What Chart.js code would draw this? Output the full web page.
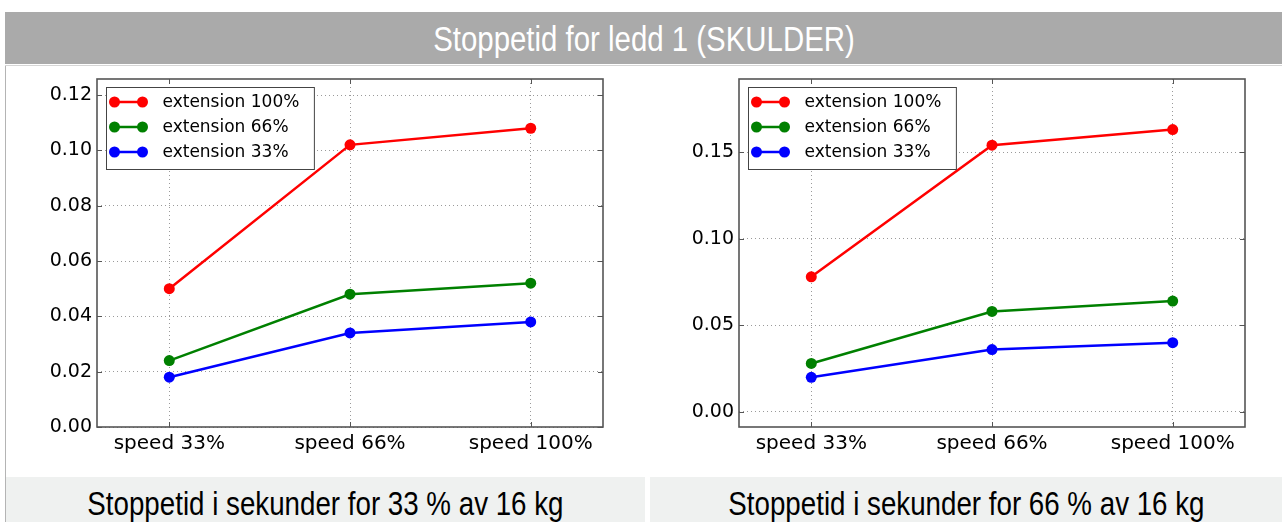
<!DOCTYPE html>
<html>
<head>
<meta charset="utf-8">
<script src="https://cdn.jsdelivr.net/npm/chart.js@4"></script>
<style>
  html, body { margin: 0; padding: 0; background: #fff; }
  body { width: 1282px; height: 522px; position: relative; overflow: hidden; }
  #header {
    position: absolute; left: 5px; top: 12px; width: 1277px; height: 52px;
    background: #aaaaaa; color: #fff; text-align: center; line-height: 54px;
    font-family: "Liberation Sans", sans-serif; font-size: 35px;
  }
  #rule { position: absolute; left: 5px; top: 65px; width: 1277px; height: 1px; background: #d6d6d6; }
  #lborder { position: absolute; left: 5px; top: 66px; width: 1px; height: 456px; background: #b4b4b4; }
  .panel { position: absolute; top: 66px; height: 406px; }
  .caption {
    position: absolute; top: 477px; height: 45px; background: #eff1f0; color: #000;
    text-align: center; line-height: 54px;
    font-family: "Liberation Sans", sans-serif; font-size: 33px;
  }
  /* narrow face: squeeze the regular one */
  .narrow { display: inline-block; transform: scaleX(0.84); white-space: nowrap; }
</style>
</head>
<body>
<div id="header"><span class="narrow">Stoppetid for ledd 1 (SKULDER)</span></div>
<div id="rule"></div>
<div id="lborder"></div>
<div class="panel" style="left:6px;width:639px"><canvas id="chart-33"></canvas></div>
<div class="panel" style="left:650px;width:632px"><canvas id="chart-66"></canvas></div>
<div class="caption" style="left:6px;width:639px"><span class="narrow">Stoppetid i sekunder for 33 % av 16 kg</span></div>
<div class="caption" style="left:650px;width:632px"><span class="narrow">Stoppetid i sekunder for 66 % av 16 kg</span></div>

<script>
// categories and legend
const speedLabels = ['speed 33%', 'speed 66%', 'speed 100%'];
const extNames = ['extension 100%', 'extension 66%', 'extension 33%'];
const extColors = ['#ff0000', '#008000', '#0000ff'];

// stop times (s), 33 % of 16 kg
const load33_ext100 = [0.050, 0.102, 0.108];
const load33_ext66  = [0.024, 0.048, 0.052];
const load33_ext33  = [0.018, 0.034, 0.038];

// stop times (s), 66 % of 16 kg
const load66_ext100 = [0.078, 0.154, 0.163];
const load66_ext66  = [0.028, 0.058, 0.064];
const load66_ext33  = [0.020, 0.036, 0.040];

// y axis ticks
const yTicks33 = [0.00, 0.02, 0.04, 0.06, 0.08, 0.10, 0.12];
const yTicks66 = [0.00, 0.05, 0.10, 0.15];

const X_FONT = { family: 'DejaVu Sans', size: 20 };
const Y_FONT = { family: 'DejaVu Sans', size: 19 };
const LEGEND_FONT = '17px "DejaVu Sans"';

// box round the plot, inward tick marks and the legend
const framePlugin = {
  id: 'frame',
  afterDraw(chart) {
    const { ctx, chartArea: a, scales } = chart;
    ctx.save();
    ctx.strokeStyle = '#555';
    ctx.lineWidth = 1;
    ctx.beginPath();
    scales.y.ticks.forEach(t => {
      const py = Math.round(scales.y.getPixelForValue(t.value)) + 0.5;
      ctx.moveTo(a.left, py); ctx.lineTo(a.left + 5, py);
      ctx.moveTo(a.right, py); ctx.lineTo(a.right - 5, py);
    });
    scales.x.ticks.forEach(t => {
      const px = Math.round(scales.x.getPixelForValue(t.value)) + 0.5;
      ctx.moveTo(px, a.bottom); ctx.lineTo(px, a.bottom - 5);
      ctx.moveTo(px, a.top); ctx.lineTo(px, a.top + 5);
    });
    ctx.stroke();
    ctx.lineWidth = 1.6;
    ctx.strokeRect(a.left, a.top, a.right - a.left, a.bottom - a.top);

    // legend
    ctx.font = LEGEND_FONT;
    const names = chart.data.datasets.map(d => d.label);
    const textW = Math.max(...names.map(n => ctx.measureText(n).width));
    const x0 = a.left + 9.5, y0 = a.top + 8.5;
    const boxW = 56 + textW + 15;
    ctx.fillStyle = '#fff';
    ctx.fillRect(x0, y0, boxW, 82);
    ctx.strokeStyle = '#444';
    ctx.lineWidth = 1;
    ctx.strokeRect(x0, y0, boxW, 82);
    chart.data.datasets.forEach((d, i) => {
      const cy = y0 + 14.5 + i * 25;
      ctx.strokeStyle = d.borderColor;
      ctx.lineWidth = 2.5;
      ctx.beginPath();
      ctx.moveTo(x0 + 8, cy); ctx.lineTo(x0 + 36, cy);
      ctx.stroke();
      ctx.fillStyle = d.borderColor;
      [x0 + 8, x0 + 36].forEach(cx => {
        ctx.beginPath(); ctx.arc(cx, cy, 5.5, 0, Math.PI * 2); ctx.fill();
      });
      ctx.fillStyle = '#000';
      ctx.textBaseline = 'middle';
      ctx.fillText(d.label, x0 + 56, cy + 1);
    });
    ctx.restore();
  }
};

function drawStopChart(id, series, yMin, yMax, yTicks, decimals, yWidth, padRight) {
  const datasets = series.map((vals, i) => ({
    label: extNames[i],
    data: vals.map((v, k) => ({ x: k, y: v })),
    borderColor: extColors[i],
    backgroundColor: extColors[i],
    borderWidth: 2.5,
    pointRadius: 5.5,
    pointBackgroundColor: extColors[i],
    pointBorderColor: extColors[i],
    pointBorderWidth: 0,
    fill: false,
    clip: false
  }));
  return new Chart(document.getElementById(id), {
    type: 'line',
    data: { datasets },
    plugins: [framePlugin],
    options: {
      responsive: true, maintainAspectRatio: false, animation: false,
      layout: { padding: { top: 13, right: padRight, left: 0, bottom: 0 } },
      plugins: { legend: { display: false }, tooltip: { enabled: false } },
      scales: {
        x: {
          type: 'linear', min: -0.4, max: 2.4,
          afterBuildTicks: s => { s.ticks = speedLabels.map((_, k) => ({ value: k })); },
          afterFit: s => { s.height = 45; s.paddingLeft = 0; s.paddingRight = 0; },
          ticks: { callback: v => speedLabels[v], font: X_FONT, color: '#000', padding: 5, maxRotation: 0, autoSkip: false },
          grid: { color: '#9a9a9a', lineWidth: 1, drawTicks: false },
          border: { display: false, dash: [1, 3] }
        },
        y: {
          min: yMin, max: yMax,
          afterBuildTicks: s => { s.ticks = yTicks.map(v => ({ value: v })); },
          afterFit: s => { s.width = yWidth; s.paddingTop = 0; s.paddingBottom = 0; },
          ticks: { callback: v => v.toFixed(decimals), font: Y_FONT, color: '#000', padding: 5 },
          grid: { color: '#9a9a9a', lineWidth: 1, drawTicks: false },
          border: { display: false, dash: [1, 3] }
        }
      }
    }
  });
}

drawStopChart('chart-33', [load33_ext100, load33_ext66, load33_ext33], 0, 0.1258, yTicks33, 2, 91, 42);
drawStopChart('chart-66', [load66_ext100, load66_ext66, load66_ext33], -0.0087, 0.1922, yTicks66, 2, 89, 37);
</script>
</body>
</html>
